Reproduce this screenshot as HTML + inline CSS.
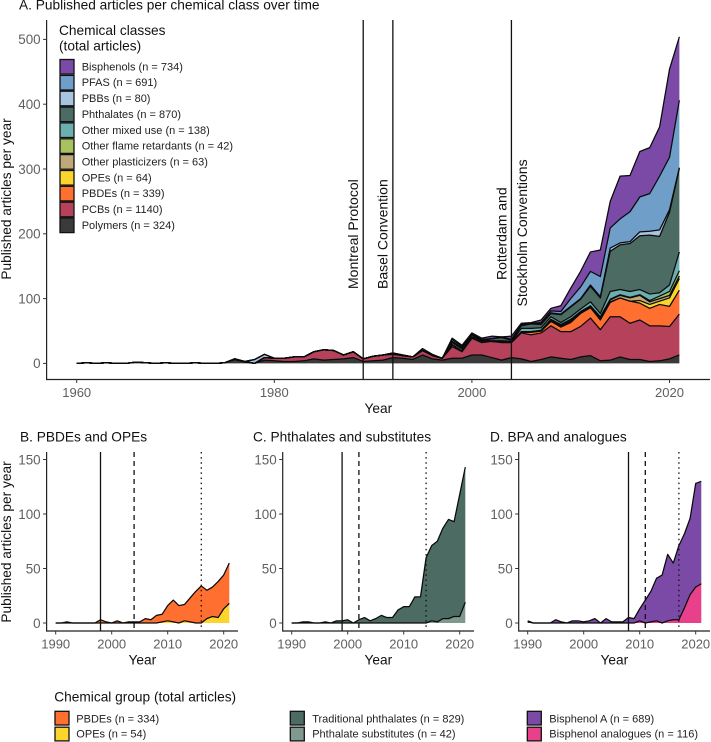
<!DOCTYPE html>
<html>
<head>
<meta charset="utf-8">
<title>Published articles per chemical class over time</title>
<style>
html,body{margin:0;padding:0;background:#fff;width:711px;height:742px;overflow:hidden}
svg{display:block;font-family:"Liberation Sans",sans-serif}
.ptitle{font-size:13.7px;fill:#111}
.ltitle{font-size:13.7px;fill:#111}
.lab{font-size:11px;fill:#222}
.sw{stroke:#111;stroke-width:1.3}
</style>
</head>
<body>
<svg id="chart" xmlns="http://www.w3.org/2000/svg" width="711" height="742" viewBox="0 0 711 742">
  <g>
    <text class="ltitle" x="59" y="35">Chemical classes</text>
    <text class="ltitle" x="59" y="50.5">(total articles)</text>
    <rect class="sw" x="60" y="59.5" width="14" height="14.6" fill="#7a4aa6"/>
    <text class="lab" x="81.7" y="70.4">Bisphenols (n = 734)</text>
    <rect class="sw" x="60" y="75.4" width="14" height="14.6" fill="#6f9ec9"/>
    <text class="lab" x="81.7" y="86.2">PFAS (n = 691)</text>
    <rect class="sw" x="60" y="91.2" width="14" height="14.6" fill="#a9c4de"/>
    <text class="lab" x="81.7" y="102.1">PBBs (n = 80)</text>
    <rect class="sw" x="60" y="107.1" width="14" height="14.6" fill="#4c6b62"/>
    <text class="lab" x="81.7" y="117.9">Phthalates (n = 870)</text>
    <rect class="sw" x="60" y="122.9" width="14" height="14.6" fill="#6cafb0"/>
    <text class="lab" x="81.7" y="133.8">Other mixed use (n = 138)</text>
    <rect class="sw" x="60" y="138.8" width="14" height="14.6" fill="#a9c25e"/>
    <text class="lab" x="81.7" y="149.6">Other flame retardants (n = 42)</text>
    <rect class="sw" x="60" y="154.6" width="14" height="14.6" fill="#bdaa78"/>
    <text class="lab" x="81.7" y="165.5">Other plasticizers (n = 63)</text>
    <rect class="sw" x="60" y="170.5" width="14" height="14.6" fill="#fbd52e"/>
    <text class="lab" x="81.7" y="181.3">OPEs (n = 64)</text>
    <rect class="sw" x="60" y="186.3" width="14" height="14.6" fill="#ff7030"/>
    <text class="lab" x="81.7" y="197.2">PBDEs (n = 339)</text>
    <rect class="sw" x="60" y="202.2" width="14" height="14.6" fill="#b5415a"/>
    <text class="lab" x="81.7" y="213">PCBs (n = 1140)</text>
    <rect class="sw" x="60" y="218" width="14" height="14.6" fill="#3a3a3a"/>
    <text class="lab" x="81.7" y="228.9">Polymers (n = 324)</text>
  </g>
  <g>
    <text class="ltitle" x="54.3" y="701.7">Chemical group (total articles)</text>
    <rect class="sw" x="55" y="711.3" width="14" height="13.7" fill="#ff7030"/>
    <text class="lab" x="76.3" y="722.3">PBDEs (n = 334)</text>
    <rect class="sw" x="55" y="727.2" width="14" height="13.7" fill="#fbd52e"/>
    <text class="lab" x="76.3" y="737.7">OPEs (n = 54)</text>
    <rect class="sw" x="290.3" y="711.3" width="14" height="13.7" fill="#4c6b62"/>
    <text class="lab" x="312.2" y="722.3">Traditional phthalates (n = 829)</text>
    <rect class="sw" x="290.3" y="727.2" width="14" height="13.7" fill="#80998f"/>
    <text class="lab" x="312.2" y="737.7">Phthalate substitutes (n = 42)</text>
    <rect class="sw" x="527.3" y="711.3" width="14" height="13.7" fill="#7a4aa6"/>
    <text class="lab" x="549.3" y="722.3">Bisphenol A (n = 689)</text>
    <rect class="sw" x="527.3" y="727.2" width="14" height="13.7" fill="#e8408a"/>
    <text class="lab" x="549.3" y="737.7">Bisphenol analogues (n = 116)</text>
  </g>
</svg>
<script>
// Panel A: yearly article counts, 1960 to 2021
const startYearA = 1960;
const polymers = [0,1,0,1,0,0,2,1,0,1,0,0,1,0,0,1,6,2,0,5, 4,3,3,4,7,5,6,7,9,3,4,5,9,8,6,13,7,5,8,8, 13,13,9,5,9,7,3,6,10,8,6,10,12,4,5,10,6,6,3,4,7,13];
const pcbs = [0,0,0,0,0,0,0,0,0,0,0,0,0,0,0,0,1,1,0,4, 4,5,7,6,11,16,14,6,9,4,7,8,5,4,4,7,5,3,18,10, 26,19,25,27,23,40,41,41,48,41,43,47,58,48,67,62,56,61,55,54,50,63];
const pbdes = [0,0,0,0,0,0,0,0,0,0,0,0,0,0,0,0,0,0,0,0, 0,0,0,0,0,0,0,0,0,0,0,0,1,0,0,0,0,0,3,1, 0,2,0,1,1,1,4,3,7,7,14,20,16,15,22,29,34,26,27,33,31,37];
const opes = [0,0,0,0,0,0,0,0,0,0,0,0,0,0,0,0,0,0,0,0, 0,0,0,0,0,0,0,0,0,0,0,0,0,0,0,0,0,0,0,0, 0,0,0,0,0,0,0,0,0,1,2,1,0,2,1,0,0,4,6,5,13,18];
const otherPlasticizers = [0,0,0,0,0,0,0,0,0,0,0,0,0,0,0,0,0,0,0,0, 0,0,0,0,0,0,0,0,0,0,0,0,0,0,0,0,0,0,0,0, 0,0,0,0,0,1,1,1,2,2,2,1,2,2,3,4,5,8,4,4,4,4];
const otherFlameRetardants = [0,0,0,0,0,0,0,0,0,0,0,0,0,0,0,0,0,0,0,0, 0,0,0,0,0,0,0,0,0,0,0,0,0,0,0,0,0,0,0,0, 0,0,0,0,0,0,0,0,1,1,1,1,1,1,1,1,1,1,2,4,6,8];
const otherMixedUse = [0,0,0,0,0,0,0,0,0,0,0,0,0,0,0,0,0,0,0,0, 0,0,0,0,0,0,0,0,0,0,0,0,0,0,0,0,0,0,3,3, 2,2,1,2,1,5,5,4,4,3,4,4,6,5,12,8,9,8,10,5,10,29];
const phthalates = [0,0,0,0,0,0,0,0,0,0,0,0,0,0,0,0,0,0,0,0, 0,0,0,0,0,0,0,0,0,0,0,0,1,1,0,0,1,0,2,2, 3,0,3,5,2,4,7,5,5,12,15,15,24,24,62,69,74,83,91,87,112,129];
const pbbs = [0,0,0,0,0,0,0,0,0,0,0,0,0,0,0,0,0,0,6,5, 0,0,0,0,0,0,0,0,0,0,0,0,0,0,0,0,0,0,0,0, 0,0,0,0,0,1,1,1,1,1,1,1,2,2,5,3,3,6,6,10,4,1];
const pfas = [0,0,0,0,0,0,0,0,0,0,0,0,0,0,0,0,0,0,0,0, 0,0,0,0,0,0,0,0,0,0,0,0,0,0,0,0,0,0,3,2, 2,1,0,1,1,1,0,2,3,4,12,18,21,31,31,37,46,54,58,83,81,104];
const bisphenols = [0,0,0,0,0,0,0,0,0,0,0,0,0,0,0,0,0,0,0,0, 0,0,0,0,0,0,0,0,0,0,0,0,0,0,0,3,1,0,2,2, 1,2,4,0,5,2,1,4,4,9,16,24,30,41,41,66,56,70,71,76,136,98];

// Panels B, C, D: yearly article counts, 1990 to 2021
const startYearSub = 1990;
const panelBOpes = [0,0,0,0,0,0,0,0,0,0,0,0,0,0,0,0,0,0,0,1,2,1,0,2,1,0,0,4,6,5,13,18];
const panelBPbdes = [0,0,1,0,0,0,0,0,3,1,0,2,0,1,1,1,4,3,7,7,14,20,16,15,22,29,34,26,27,33,31,37];
const panelCSubstitutes = [0,0,0,0,0,0,0,0,0,0,0,0,0,0,0,0,0,0,0,0,0,0,0,0,0,2,1,4,4,6,6,19];
const panelCTraditional = [0,0,1,1,0,0,1,0,2,2,3,0,3,5,2,4,7,5,5,12,15,15,24,24,60,69,74,83,91,87,112,124];
const panelDAnalogues = [1,0,0,0,0,0,0,0,0,0,0,0,0,0,0,0,0,0,0,0,2,0,1,2,0,2,3,3,14,26,33,36];
const panelDBisphenolA = [1,0,0,0,0,3,1,0,2,2,1,2,4,0,4,1,1,1,5,4,11,21,28,39,44,61,52,68,68,70,95,94];

// Axis tick labels and reference years
const ticksAY = [0,100,200,300,400,500];
const ticksAX = [1960,1980,2000,2020];
const ticksSubY = [0,50,100,150];
const ticksSubX = [1990,2000,2010,2020];
const treatyYearsA = [1989,1992,2004];
const treatyYearsB = [1998,2004,2016];
const treatyYearsC = [1999,2002,2014];
const treatyYearsD = [2008,2011,2017];

const NS = 'http://www.w3.org/2000/svg';
const svg = document.getElementById('chart');

function make(tag, parent, props, text) {
  const el = document.createElementNS(NS, tag);
  Object.keys(props).forEach(function (k) { el.setAttribute(k, props[k]); });
  if (text !== undefined) el.textContent = text;
  parent.appendChild(el);
  return el;
}

function drawPanel(cfg) {
  const xScale = function (year) { return cfg.x0 + (year - cfg.startYear) * cfg.pxPerYear; };
  const yScale = function (value) { return cfg.y0 - value * cfg.pxPerUnit; };

  const g = make('g', svg, {});
  
  

  const title = make('text', g, { x: cfg.titleX, y: cfg.titleY, 'class': 'ptitle' }, cfg.title);
  
  

  // stacked areas
  const totals = cfg.series[0].values.map(function () { return 0; });
  const lines = [];
  cfg.series.forEach(function (s) {
    const lower = totals.slice();
    s.values.forEach(function (v, i) { totals[i] += v; });
    const upper = totals.slice();
    let top = '';
    upper.forEach(function (v, i) {
      top += (i ? 'L' : 'M') + xScale(cfg.startYear + i).toFixed(2) + ' ' + yScale(v).toFixed(2);
    });
    let bottom = '';
    for (let i = lower.length - 1; i >= 0; i--) {
      bottom += 'L' + xScale(cfg.startYear + i).toFixed(2) + ' ' + yScale(lower[i]).toFixed(2);
    }
    const area = make('path', g, { d: top + bottom + 'Z', fill: s.color, stroke: 'none' });
    
    
    lines.push({ key: s.key, d: top });
  });
  lines.forEach(function (l) {
    const line = make('path', g, { d: l.d, fill: 'none', stroke: '#0a0a0a', 'stroke-width': cfg.lineWidth, 'stroke-linejoin': 'round' });
    
    
  });

  // reference lines
  cfg.refYears.forEach(function (year, i) {
    const ref = make('line', g, {
      x1: xScale(year), x2: xScale(year), y1: cfg.top, y2: cfg.bottom,
      stroke: '#111', 'stroke-width': 1.3
    });
    if (cfg.refDash[i]) ref.setAttribute('stroke-dasharray', cfg.refDash[i]);
    
    
  });

  // axes
  const yAxis = make('line', g, { x1: cfg.left, x2: cfg.left, y1: cfg.top, y2: cfg.bottom + 0.6, stroke: '#222', 'stroke-width': 1.2 });
  
  
  const xAxis = make('line', g, { x1: cfg.left, x2: cfg.right, y1: cfg.bottom, y2: cfg.bottom, stroke: '#222', 'stroke-width': 1.2 });
  
  

  cfg.yTicks.forEach(function (t) {
    const mark = make('line', g, { x1: cfg.left - 3.5, x2: cfg.left, y1: yScale(t), y2: yScale(t), stroke: '#333', 'stroke-width': 1 });
    
    
    const label = make('text', g, { x: cfg.left - 6, y: yScale(t) + 4.8, 'text-anchor': 'end', 'font-size': 13.4, fill: '#5f5f5f' }, t);
    
    
  });
  cfg.xTicks.forEach(function (t) {
    const mark = make('line', g, { x1: xScale(t), x2: xScale(t), y1: cfg.bottom, y2: cfg.bottom + 3.5, stroke: '#333', 'stroke-width': 1 });
    
    
    const label = make('text', g, { x: xScale(t), y: cfg.bottom + 17.5, 'text-anchor': 'middle', 'font-size': 13, fill: '#5f5f5f' }, t);
    
    
  });

  const xTitle = make('text', g, { x: (cfg.left + cfg.right) / 2, y: cfg.bottom + 33.5, 'text-anchor': 'middle', 'font-size': 13.7, fill: '#111' }, 'Year');
  
  

  if (cfg.yTitleY) {
    const yTitle = make('text', g, {
      transform: 'translate(' + cfg.yTitleX + ' ' + cfg.yTitleY + ') rotate(-90)',
      'text-anchor': 'middle', 'font-size': 13.7, fill: '#111'
    }, 'Published articles per year');
    
    
  }
}

drawPanel({
  id: 'a', title: 'A. Published articles per chemical class over time', titleX: 19, titleY: 9.5,
  startYear: startYearA, x0: 76.7, pxPerYear: 9.88, y0: 363.4, pxPerUnit: 0.648,
  left: 46.6, right: 710, top: 20, bottom: 379.5, lineWidth: 1.25,
  yTicks: ticksAY, xTicks: ticksAX, yTitleX: 11, yTitleY: 199,
  refYears: treatyYearsA, refDash: [null, null, null],
  series: [
    { key: 'polymers', color: '#3a3a3a', values: polymers },
    { key: 'pcbs', color: '#b5415a', values: pcbs },
    { key: 'pbdes', color: '#ff7030', values: pbdes },
    { key: 'opes', color: '#fbd52e', values: opes },
    { key: 'other-plasticizers', color: '#bdaa78', values: otherPlasticizers },
    { key: 'other-flame-retardants', color: '#a9c25e', values: otherFlameRetardants },
    { key: 'other-mixed-use', color: '#6cafb0', values: otherMixedUse },
    { key: 'phthalates', color: '#4c6b62', values: phthalates },
    { key: 'pbbs', color: '#a9c4de', values: pbbs },
    { key: 'pfas', color: '#6f9ec9', values: pfas },
    { key: 'bisphenols', color: '#7a4aa6', values: bisphenols }
  ]
});

const subLayout = { startYear: startYearSub, pxPerYear: 5.6, y0: 623, pxPerUnit: 1.09, top: 452, bottom: 631, lineWidth: 1.25, yTicks: ticksSubY, xTicks: ticksSubX, titleY: 441.5, refDash: [null, '5 4', '1.5 3.6'] };

drawPanel(Object.assign({}, subLayout, {
  id: 'b', title: 'B. PBDEs and OPEs', titleX: 20, x0: 55.7, left: 46.6, right: 238,
  yTitleX: 11, yTitleY: 542, refYears: treatyYearsB,
  series: [
    { key: 'opes', color: '#fbd52e', values: panelBOpes },
    { key: 'pbdes', color: '#ff7030', values: panelBPbdes }
  ]
}));

drawPanel(Object.assign({}, subLayout, {
  id: 'c', title: 'C. Phthalates and substitutes', titleX: 253, x0: 291.7, left: 282.7, right: 474,
  refYears: treatyYearsC,
  series: [
    { key: 'phthalate-substitutes', color: '#80998f', values: panelCSubstitutes },
    { key: 'traditional-phthalates', color: '#4c6b62', values: panelCTraditional }
  ]
}));

drawPanel(Object.assign({}, subLayout, {
  id: 'd', title: 'D. BPA and analogues', titleX: 490, x0: 527.7, left: 518.7, right: 710,
  refYears: treatyYearsD,
  series: [
    { key: 'bisphenol-analogues', color: '#e8408a', values: panelDAnalogues },
    { key: 'bisphenol-a', color: '#7a4aa6', values: panelDBisphenolA }
  ]
}));

// Treaty annotations
const treatyNote1 = make('text', svg, { transform: 'translate(358 289) rotate(-90)', 'font-size': 14, fill: '#111' }, 'Montreal Protocol');


const treatyNote2 = make('text', svg, { transform: 'translate(387.5 289) rotate(-90)', 'font-size': 14, fill: '#111' }, 'Basel Convention');


const treatyNote3 = make('text', svg, { transform: 'translate(506.5 280) rotate(-90)', 'font-size': 14, fill: '#111' }, 'Rotterdam and');


const treatyNote4 = make('text', svg, { transform: 'translate(527 306.5) rotate(-90)', 'font-size': 14, fill: '#111' }, 'Stockholm Conventions');


</script>
</body>
</html>
